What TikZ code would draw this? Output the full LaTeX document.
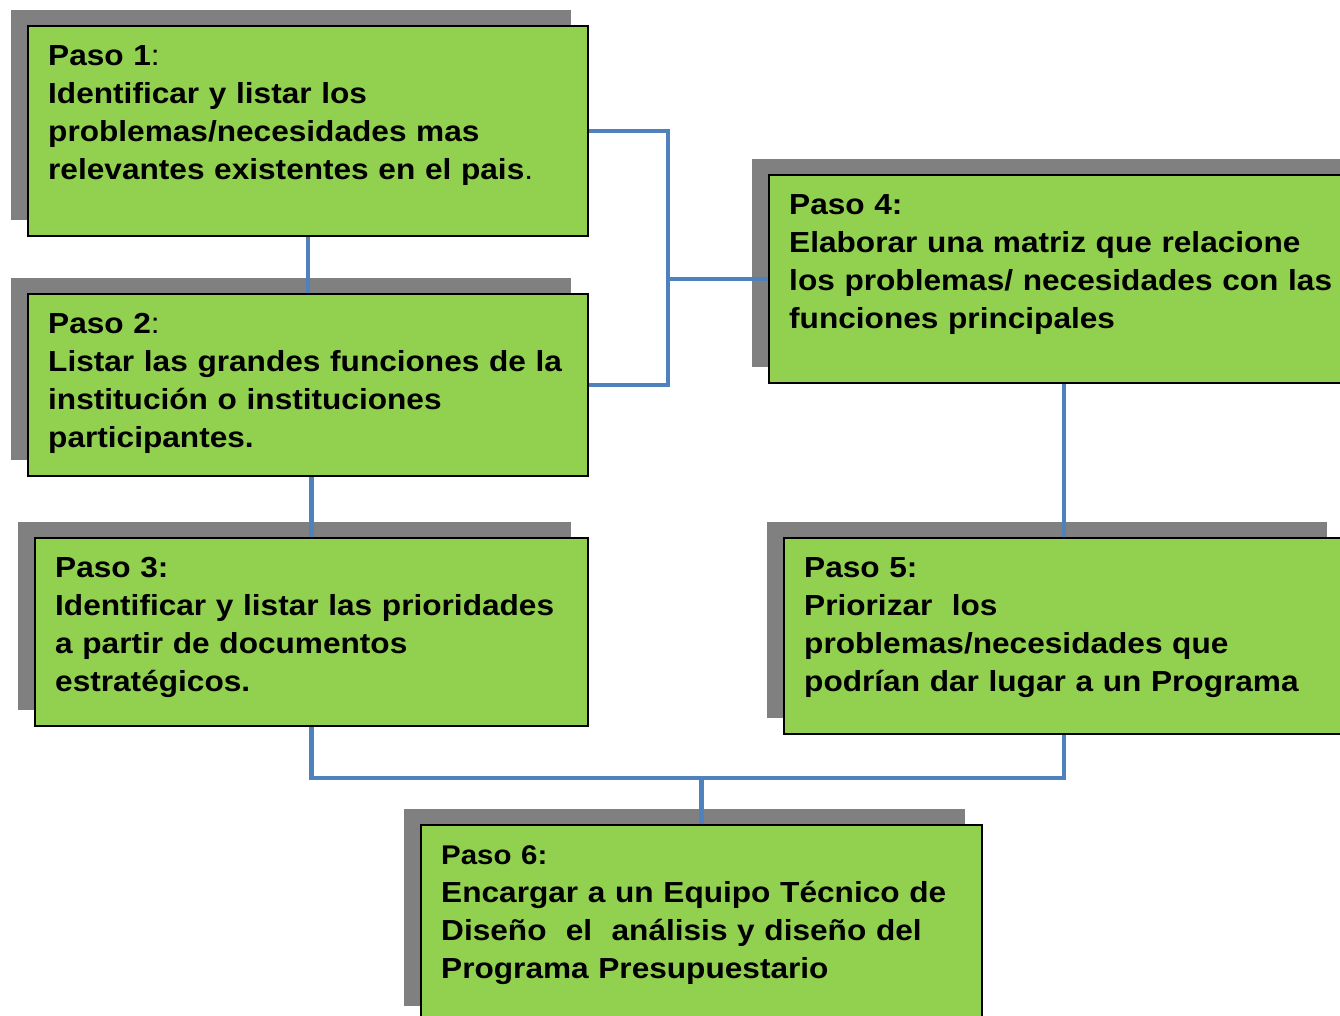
\documentclass[tikz,border=0pt]{standalone}
\usepackage{fontspec}
\setmainfont{Liberation Sans}[FakeStretch=1.09]
\usetikzlibrary{shadows}
\definecolor{pasogreen}{HTML}{92D050}
\definecolor{pasogray}{HTML}{808080}
\definecolor{linkblue}{HTML}{4F81BD}

\begin{document}
\begin{tikzpicture}[x=1pt,y=-1pt,
        paso/.style={draw=black,line width=1.6pt,fill=pasogreen,anchor=north west,inner sep=0pt,
          drop shadow={shadow xshift=-17pt,shadow yshift=16pt,fill=pasogray,opacity=1}},
        txt/.style={anchor=north west,inner sep=0pt,align=left,text width=580pt,
          font=\fontsize{29}{38}\selectfont\bfseries},
        link/.style={draw=linkblue,line width=4.5pt}]
        \useasboundingbox (0,0) rectangle (1340,1016);

        \node [paso,minimum width=560pt,minimum height=210pt] at (27,25) (p1){};
        \node [paso,minimum width=560pt,minimum height=182pt] at (27,293) (p2){};
        \node [paso,minimum width=553pt,minimum height=188pt] at (34,537) (p3){};
        \node [paso,minimum width=590pt,minimum height=208pt] at (768,174) (p4){};
        \node [paso,minimum width=560pt,minimum height=196pt] at (783,537) (p5){};
        \node [paso,minimum width=561pt,minimum height=197pt] at (420,824) (p6){};

        \node [txt] at ([shift={(21,20)}]p1.north west) (t1){Paso 1\textmd{:}\\
          Identificar y listar los\\
          problemas/necesidades mas\\
          relevantes existentes en el pais\textmd{.}};
        \node [txt] at ([shift={(21,20)}]p2.north west) (t2){Paso 2\textmd{:}\\
          Listar las grandes funciones de la\\
          institución o instituciones\\
          participantes.};
        \node [txt] at ([shift={(21,20)}]p3.north west) (t3){Paso 3:\\
          Identificar y listar las prioridades\\
          a partir de documentos\\
          estratégicos.};
        \node [txt] at ([shift={(21,20)}]p4.north west) (t4){Paso 4:\\
          Elaborar una matriz que relacione\\
          los problemas/ necesidades con las\\
          funciones principales};
        \node [txt] at ([shift={(21,20)}]p5.north west) (t5){Paso 5:\\
          Priorizar\ \ los\\
          problemas/necesidades que\\
          podrían dar lugar a un Programa};
        \node [txt] at ([shift={(21,21)}]p6.north west) (t6){{\fontsize{27}{38}\selectfont Paso 6:}\\
          Encargar a un Equipo Técnico de\\
          Diseño\ \ el\ \ análisis y diseño del\\
          Programa Presupuestario};

        \coordinate (ja) at ([xshift=-100pt]p4.west);
        \coordinate (jb) at ([yshift=46pt]p6.north);
        \draw [link] (p1.east) -| (ja) |- (p2.east);
        \draw [link] (ja) -- (p4.west);
        \draw [link] (p1.south) -- (p2.north);
        \draw [link] (p2.south -| p3.north) -- (p3.north);
        \draw [link] (p4.south) -- (p5.north);
        \draw [link] (p3.south) |- (jb) -| (p5.south);
        \draw [link] (jb) -- (p6.north);
      \end{tikzpicture}
\end{document}
